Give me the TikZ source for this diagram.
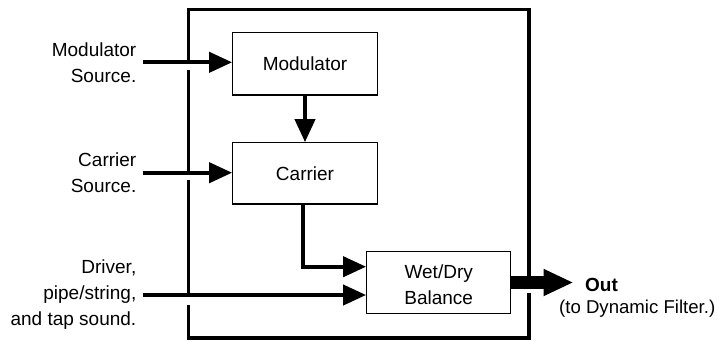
\documentclass[tikz,border=0pt]{standalone}
\usepackage{fontspec}
\setmainfont{Liberation Sans}
\usetikzlibrary{arrows.meta}
\begin{document}
\begin{tikzpicture}[x=1pt,y=-1pt,
  lbl/.style={font=\fontsize{19}{26}\selectfont, inner sep=0pt},
  blk/.style={draw, line width=1.2pt, fill=white, font=\fontsize{19}{26}\selectfont, align=center, inner sep=0pt, minimum width=144.5pt},
  arr/.style={line width=4pt, -{Triangle[length=23pt,width=20pt]}},
  bigarr/.style={line width=13pt, -{Triangle[length=30pt,width=25pt]}},
  framethin/.style={line width=2.6pt},
  framethick/.style={line width=4.2pt}]
\useasboundingbox (0,0) rectangle (719,341);
% frame
\draw[framethin] (187.4,9.5) -- (530.7,9.5);
\draw[framethin] (188.7,9.5) -- (188.7,64.3);
\draw[framethin] (188.7,70) -- (188.7,174.7);
\draw[framethin] (188.7,180) -- (188.7,297);
\draw[framethin] (188.7,305) -- (188.7,338.3);
\draw[framethick] (528.7,9.5) -- (528.7,276);
\draw[framethick] (528.7,292.7) -- (528.7,340.3);
\draw[framethick] (187.4,338.3) -- (530.7,338.3);
% blocks
\node[blk, minimum height=62.3pt] (mod) at (305,63.9) {Modulator};
\node[blk, minimum height=61.3pt] (car) at (305,173.4) {Carrier};
\node[blk, minimum height=61.6pt, minimum width=144pt] (wd) at (438.7,282.5) {\rule{0pt}{17.5pt}Wet/Dry\\Balance};
% labels
\node[lbl, align=right, anchor=east] (msrc) at (136.5,62.3) {Modulator\\Source.};
\node[lbl, align=right, anchor=east] (csrc) at (136.5,172.7) {Carrier\\Source.};
\node[lbl, align=right, anchor=east] (drv) at (136.5,295) {Driver,\\pipe/string,\\and tap sound.};
\node[lbl, font=\fontsize{19}{26}\selectfont\bfseries, anchor=base west] (out) at (585,291.5) {Out};
\node[lbl, font=\fontsize{18.6}{26}\selectfont, anchor=base west] (outsub) at (559,313.5) {(to Dynamic Filter.)};
\coordinate (outtip) at (573.5,282.5);
% connectors
\draw[arr] ([xshift=6pt]msrc.east) -- (msrc.east -| mod.west);
\draw[arr] ([xshift=6pt]csrc.east) -- (csrc.east -| car.west);
\draw[arr] (mod.south) -- (car.north);
\draw[arr] ([xshift=-1.7pt]car.south) |- ([yshift=15.8pt]wd.west);
\draw[arr] ([xshift=6pt]drv.east) -- (drv.east -| wd.west);
\draw[bigarr] (wd.east) -- (wd.east -| outtip);
\end{tikzpicture}
\end{document}
